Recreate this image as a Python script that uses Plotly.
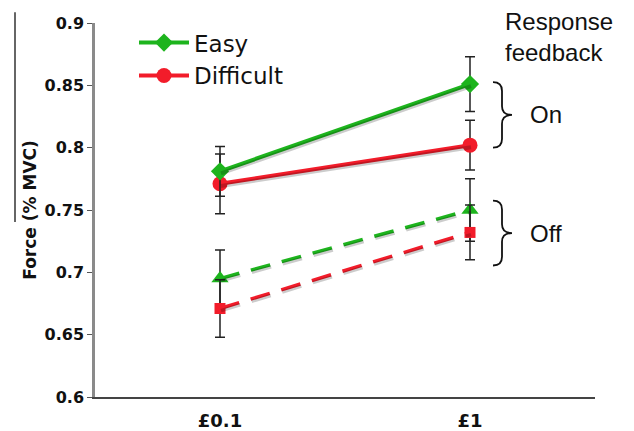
import plotly.graph_objects as go

# Reward levels on the x axis
rewards = ["£0.1", "£1"]

# Mean force (% MVC) per condition, with standard-error bars
easy_on = [0.781, 0.851]
easy_on_err = [0.020, 0.022]
difficult_on = [0.771, 0.802]
difficult_on_err = [0.024, 0.020]
easy_off = [0.695, 0.750]
easy_off_err = [0.023, 0.025]
difficult_off = [0.671, 0.732]
difficult_off_err = [0.023, 0.022]

y_ticks = [0.6, 0.65, 0.7, 0.75, 0.8, 0.85, 0.9]

GREEN = "#1db41d"
RED = "#f21c2a"
SHADOW = "rgba(0,0,0,0.2)"
ERR = dict(type="data", thickness=1.5, width=5, color="#222222")

fig = go.Figure()

SERIES = [
    ("Easy off", easy_off, easy_off_err, GREEN, "triangle-up", 15, "20px,12px", False),
    ("Difficult off", difficult_off, difficult_off_err, RED, "square", 11, "20px,12px", False),
    ("Difficult", difficult_on, difficult_on_err, RED, "circle", 15, "solid", True),
    ("Easy", easy_on, easy_on_err, GREEN, "diamond", 14, "solid", True),
]

# Soft drop shadow under each line, drawn on a slightly offset overlay axis pair
for name, y, err, color, symbol, msize, dash, show in SERIES:
    fig.add_trace(go.Scatter(
        x=rewards, y=y, mode="lines", xaxis="x2", yaxis="y2",
        line=dict(color=SHADOW, width=4 if dash == "solid" else 3.5, dash=dash),
        showlegend=False, hoverinfo="skip",
    ))

for name, y, err, color, symbol, msize, dash, show in SERIES:
    fig.add_trace(go.Scatter(
        x=rewards, y=y, name=name, mode="lines+markers",
        line=dict(color=color, width=4 if dash == "solid" else 3.5, dash=dash),
        marker=dict(color=color, symbol=symbol, size=msize),
        error_y=dict(array=err, **ERR),
        showlegend=show,
    ))

# Curly braces grouping the feedback conditions
def brace(y_top, y_bot, x0=0.796, xm=0.814, x1=0.834, d=0.007):
    ym = (y_top + y_bot) / 2
    return (f"M {x0},{y_top} Q {xm},{y_top} {xm},{y_top - d} "
            f"L {xm},{ym + d} Q {xm},{ym} {x1},{ym} "
            f"Q {xm},{ym} {xm},{ym - d} "
            f"L {xm},{y_bot + d} Q {xm},{y_bot} {x0},{y_bot}")

shapes = [
    dict(type="path", path=brace(0.8525, 0.800), xref="paper", yref="y",
         line=dict(color="#111111", width=1.8)),
    dict(type="path", path=brace(0.7575, 0.7055), xref="paper", yref="y",
         line=dict(color="#111111", width=1.8)),
    dict(type="line", xref="paper", yref="paper", x0=-0.16, x1=-0.16,
         y0=1.029, y1=0.468, line=dict(color="#333333", width=1.5)),
]

ann_font = dict(family="Liberation Sans, Arial, sans-serif", size=24, color="#111111")
annotations = [
    dict(text="Response<br>feedback", xref="paper", yref="paper", x=0.816, y=1.045,
         xanchor="left", yanchor="top", align="left", showarrow=False, font=ann_font),
    dict(text="On", xref="paper", yref="y", x=0.866, y=0.8265,
         xanchor="left", yanchor="middle", showarrow=False, font=ann_font),
    dict(text="Off", xref="paper", yref="y", x=0.866, y=0.731,
         xanchor="left", yanchor="middle", showarrow=False, font=ann_font),
]

fig.update_layout(
    width=634, height=431,
    margin=dict(l=95, r=39, t=23, b=34, autoexpand=False),
    paper_bgcolor="white", plot_bgcolor="white",
    font=dict(family="DejaVu Sans, Verdana, sans-serif", color="#111111"),
    shapes=shapes, annotations=annotations,
    legend=dict(x=0.078, y=1.005, xanchor="left", yanchor="top",
                traceorder="reversed", font=dict(size=23),
                bgcolor="rgba(0,0,0,0)", itemwidth=50, tracegroupgap=0),
    xaxis=dict(
        type="category", categoryorder="array", categoryarray=rewards,
        range=[-0.5, 1.5], showline=True, linecolor="#444444", linewidth=2,
        ticks="", showgrid=False, zeroline=False, automargin=False,
        tickfont=dict(size=18, family="DejaVu Sans", weight="bold"),
        ticklabelstandoff=6,
    ),
    yaxis=dict(
        range=[0.6, 0.9], tickvals=y_ticks, showline=True, linecolor="#8a8a8a",
        linewidth=2.5, ticks="outside", ticklen=5, tickcolor="#555555",
        showgrid=False, zeroline=False, automargin=False,
        tickfont=dict(size=16, family="DejaVu Sans", weight="bold"),
        title=dict(text="Force (% MVC)", standoff=4,
                   font=dict(size=17, family="DejaVu Sans", weight="bold")),
    ),
    # overlay axes shifted ~1px right and ~2px down for the shadow traces
    xaxis2=dict(type="category", categoryorder="array", categoryarray=rewards,
                range=[-0.504, 1.496], overlaying="x", visible=False),
    yaxis2=dict(range=[0.6017, 0.9017], overlaying="y", visible=False),
)

fig.write_html("out.html")
